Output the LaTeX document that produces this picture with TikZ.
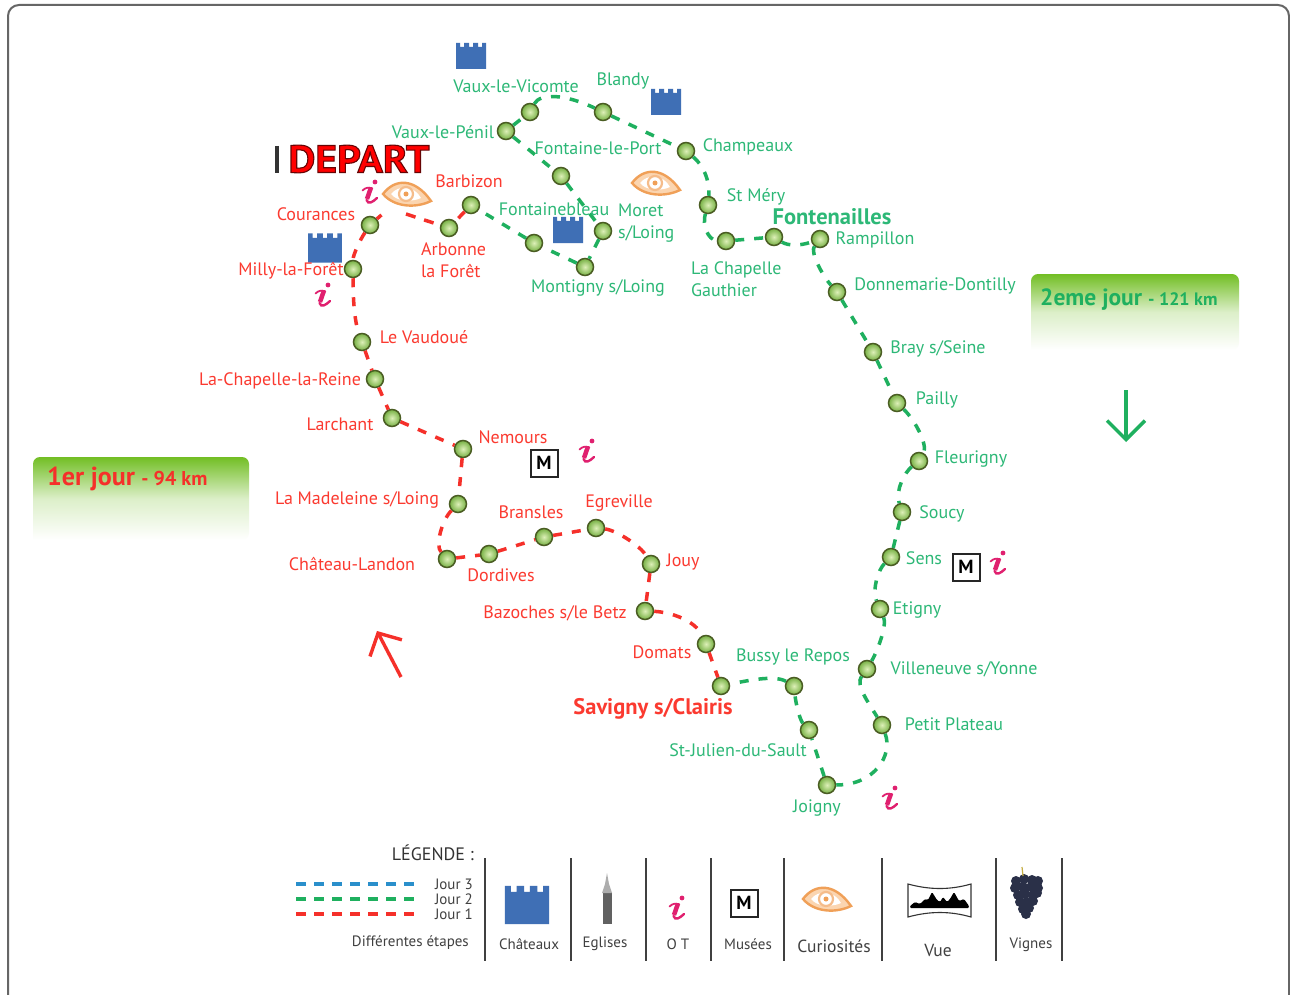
\documentclass[tikz,border=0pt]{standalone}
\usepackage{fontspec}
\setmainfont{PT Sans}
\newfontfamily\depfont[BoldFeatures={FakeStretch=1.08}]{PT Sans}
\usetikzlibrary{arrows.meta}
\definecolor{routeG}{HTML}{1FB05F}
\definecolor{routeR}{HTML}{F5302A}
\definecolor{routeB}{HTML}{2A8FCB}
\definecolor{textG}{HTML}{2DB877}
\definecolor{textR}{HTML}{FB3A30}
\definecolor{castleB}{HTML}{3F6FB5}
\definecolor{pinkI}{HTML}{E0206F}
\definecolor{eyeO}{HTML}{F0A058}
\definecolor{eyeP}{HTML}{FBD5B0}
\definecolor{greenbar}{HTML}{72BE24}
\definecolor{grape}{HTML}{2A3048}
\definecolor{stopE}{HTML}{4A5D23}
\definecolor{stopI}{HTML}{DDF0B8}
\definecolor{stopO}{HTML}{76B043}
\tikzset{
  etape/.style={circle,draw=stopE,line width=1.5pt,minimum size=17pt,inner sep=0pt,
    inner color=stopI,outer color=stopO},
  gl/.style={text=textG,font=\fontsize{18}{22}\selectfont,inner sep=0pt,align=left},
  rl/.style={text=textR,font=\fontsize{18}{22}\selectfont,inner sep=0pt,align=left},
  dl/.style={text=black!75,font=\fontsize{15}{16}\selectfont,inner sep=0pt},
  groute/.style={draw=routeG,line width=3.5pt,dash pattern=on 9pt off 10pt},
  rroute/.style={draw=routeR,line width=3.5pt,dash pattern=on 9pt off 10pt},
  sep/.style={draw=black!75,line width=1.8pt},
  mbox/.style={draw=black!85,line width=2pt,fill=white,minimum size=27pt,inner sep=0pt,font=\bfseries\fontsize{19}{19}\selectfont},
  bar/.style={rounded corners=7pt,top color=greenbar,bottom color=white,middle color=greenbar!25!white},
  castle/.pic={
    \fill[castleB] (-15,-13) -- (-15,13) -- (15,13) -- (15,-13) -- (11,-13) -- (11,-9) -- (7,-9) -- (7,-13)
      -- (2,-13) -- (2,-9) -- (-2,-9) -- (-2,-13) -- (-7,-13) -- (-7,-9) -- (-11,-9) -- (-11,-13) -- cycle;
  },
  eye/.pic={
    \fill[eyeP,draw=eyeO,line width=2.4pt] (-24,0) .. controls (-12,-16) and (8,-16) .. (24,7) .. controls (10,14) and (-12,14) .. (-24,0) -- cycle;
    \fill[white] (-16,0) .. controls (-9,-9) and (7,-9) .. (14,4) .. controls (6,8) and (-10,8) .. (-16,0) -- cycle;
    \draw[eyeO!70!white,line width=2.2pt] (-1,0) circle (7);
    \fill[eyeO] (-1,0) circle (2.5);
  },
  infoi/.pic={
    \fill[pinkI] (5,-10) circle (2.4);
    \draw[pinkI,line width=1.8pt,line cap=round] (-7.5,-1.5) .. controls (-4,-5) and (-1,-4.5) .. (2,-4);
    \draw[pinkI,line width=4.5pt] (1,-4.5) -- (-3,7);
    \draw[pinkI,line width=2.4pt,line cap=round] (-3.5,8) .. controls (-2,13) and (3,10) .. (7,6);
  },
}
\begin{document}
\begin{tikzpicture}[x=1pt,y=-1pt]
\useasboundingbox (0,0) rectangle (1290,995);
\fill[white] (0,0) rectangle (1290,995);
\draw[black!60,line width=2pt,rounded corners=11pt] (8,1010) -- (8,5) -- (1289,5) -- (1289,1010);

% stops
\foreach \n/\x/\y in {vlp/506/131,vlv/530/112,bla/603/112,cha/686/151,stm/708/205,lac/726/241,fon/774/237,ram/820/239,
 don/837/292,bra/873/352,pai/897/403,fle/919/461,sou/902/512,sen/891/557,eti/880/609,vil/867/669,pet/882/725,joi/827/785,
 stj/809/730,bus/794/686,sav/721/686,flp/561/176,mor/603/231,mon/585/267,fbl/534/243,bar/471/205,arb/449/228,cou/370/225,
 mil/353/269,vau/362/342,clr/375/379,lar/392/418,nem/463/449,mad/458/504,chl/447/559,dor/489/554,brn/544/537,egr/596/528,
 jou/651/564,baz/645/611,dom/706/644}
 {\node[etape] (\n) at (\x,\y) {};}

% green route
\draw[groute] (vlp) -- (vlv);
\draw[groute] (vlv) .. controls (540,93) and (565,94) .. (bla);
\draw[groute] (bla) -- (cha);
\draw[groute] (cha) .. controls (703,165) and (710,180) .. (stm);
\draw[groute] (stm) .. controls (702,225) and (708,240) .. (lac);
\draw[groute] (lac) -- (fon);
\draw[groute] (fon) .. controls (788,246) and (800,246) .. (ram);
\draw[groute] (ram) .. controls (810,252) and (822,275) .. (don);
\draw[groute] (don) -- (bra);
\draw[groute] (bra) -- (pai);
\draw[groute] (pai) .. controls (915,420) and (928,445) .. (fle);
\draw[groute] (fle) .. controls (905,472) and (895,490) .. (sou);
\draw[groute] (sou) -- (sen);
\draw[groute] (sen) .. controls (878,570) and (872,590) .. (eti);
\draw[groute] (eti) .. controls (887,625) and (878,650) .. (vil);
\draw[groute] (vil) .. controls (855,685) and (870,705) .. (pet);
\draw[groute] (pet) .. controls (893,755) and (875,785) .. (joi);
\draw[groute] (joi) -- (stj);
\draw[groute] (stj) .. controls (800,720) and (796,705) .. (bus);
\draw[groute] (bus) .. controls (775,675) and (750,680) .. (sav);
\draw[groute] (vlp) -- (flp);
\draw[groute] (flp) -- (mor);
\draw[groute] (mor) -- (mon);
\draw[groute] (mon) -- (fbl);
\draw[groute] (fbl) -- (bar);
% red route
\coordinate (eyestub) at (395,203);
\coordinate (eyelow) at (406,214);
\draw[rroute] (bar) -- (arb);
\draw[rroute,dash pattern=on 6pt off 40pt] (cou) -- (eyestub);
\draw[rroute,dash pattern=on 10pt off 9pt] (eyelow) -- (arb);
\draw[rroute] (cou) .. controls (360,240) and (353,255) .. (mil);
\draw[rroute] (mil) .. controls (353,295) and (354,320) .. (vau);
\draw[rroute] (vau) -- (clr);
\draw[rroute] (clr) -- (lar);
\draw[rroute] (lar) -- (nem);
\draw[rroute] (nem) -- (mad);
\draw[rroute] (mad) .. controls (442,520) and (435,545) .. (chl);
\draw[rroute] (chl) -- (dor);
\draw[rroute] (dor) -- (brn);
\draw[rroute] (brn) -- (egr);
\draw[rroute] (egr) .. controls (615,530) and (640,545) .. (jou);
\draw[rroute] (jou) -- (baz);
\draw[rroute] (baz) .. controls (670,612) and (695,620) .. (dom);
\draw[rroute] (dom) -- (sav);

% icons
\pic at (471,56) {castle};
\pic at (666,102) {castle};
\pic[scale=1.12] at (325,248) {castle};
\pic at (568,230) {castle};
\pic[scale=1.47] at (527,905) {castle};
\pic at (407,194) {eye};
\pic at (656,183) {eye};
\pic at (827,899) {eye};
\pic at (370,192) {infoi};
\pic at (323,295) {infoi};
\pic at (587,451) {infoi};
\pic at (998,563) {infoi};
\pic at (890,798) {infoi};
\pic at (677,908) {infoi};
\node[mbox] (m1) at (544,463) {M};
\node[mbox] (m2) at (966,567) {M};
\node[mbox] (m3) at (744,903) {M};

% green labels
\node[gl] (l1) at (516,86) {Vaux-le-Vicomte};
\node[gl] (l2) at (623,81) {Blandy};
\node[gl] (l3) at (443,132) {Vaux-le-Pénil};
\node[gl] (l4) at (598,148) {Fontaine-le-Port};
\node[gl] (l5) at (748,147) {Champeaux};
\node[gl] (l6) at (756,197) {St Méry};
\node[gl,font=\bfseries\fontsize{22.5}{24}\selectfont] (l7) at (832,217) {Fontenailles};
\node[gl] (l8) at (875,240) {Rampillon};
\node[gl,anchor=west] (l9) at (691,279) {La Chapelle\\Gauthier};
\node[gl] (l10) at (935,286) {Donnemarie-Dontilly};
\node[gl] (l11) at (938,349) {Bray s/Seine};
\node[gl] (l12) at (937,400) {Pailly};
\node[gl] (l13) at (971,459) {Fleurigny};
\node[gl] (l14) at (942,514) {Soucy};
\node[gl] (l15) at (924,558) {Sens};
\node[gl] (l16) at (917,610) {Etigny};
\node[gl] (l17) at (964,669) {Villeneuve s/Yonne};
\node[gl] (l18) at (954,724) {Petit Plateau};
\node[gl] (l19) at (817,808) {Joigny};
\node[gl] (l20) at (738,750) {St-Julien-du-Sault};
\node[gl] (l21) at (793,657) {Bussy le Repos};
\node[gl] (l22) at (554,209) {Fontainebleau};
\node[gl,anchor=west] (l23) at (618,223) {Moret\\s/Loing};
\node[gl] (l24) at (598,288) {Montigny s/Loing};
% red labels
\node[rl] (r1) at (469,181) {Barbizon};
\node[rl] (r2) at (316,214) {Courances};
\node[rl,anchor=west] (r3) at (421,260) {Arbonne\\la Forêt};
\node[rl] (r4) at (291,271) {Milly-la-Forêt};
\node[rl] (r5) at (424,337) {Le Vaudoué};
\node[rl] (r6) at (280,381) {La-Chapelle-la-Reine};
\node[rl] (r7) at (340,424) {Larchant};
\node[rl] (r8) at (513,437) {Nemours};
\node[rl] (r9) at (357,500) {La Madeleine s/Loing};
\node[rl] (r10) at (352,564) {Château-Landon};
\node[rl] (r11) at (501,575) {Dordives};
\node[rl] (r12) at (531,512) {Bransles};
\node[rl] (r13) at (619,503) {Egreville};
\node[rl] (r14) at (683,562) {Jouy};
\node[rl] (r15) at (555,613) {Bazoches s/le Betz};
\node[rl] (r16) at (662,652) {Domats};
\node[rl,font=\bfseries\fontsize{22.5}{24}\selectfont] (r17) at (653,709) {Savigny s/Clairis};

% depart
\draw[black!80,line width=3.5pt] (277,146) -- (277,173);
\node[text=red,inner sep=0pt,font=\depfont\bfseries\fontsize{38.5}{40}\selectfont] (dep) at (359,159)
  {\special{pdf:code q 2 Tr 1.1 w 0.4 0.02 0.02 RG}DEPART\special{pdf:code Q}};

% day boxes
\path[bar] (33,540) -- (33,457) -- (249,457) -- (249,540) [sharp corners] -- cycle;
\path[bar] (1031,350) -- (1031,274) -- (1239,274) -- (1239,350) [sharp corners] -- cycle;
\node[text=routeR,inner sep=0pt,anchor=base west] (d1) at (47,485) {\bfseries\fontsize{26}{28}\selectfont 1er jour {\fontsize{20}{22}\selectfont - 94 km}};
\node[text=routeG,inner sep=0pt,anchor=base west] (d2) at (1040,305) {\bfseries\fontsize{23.5}{28}\selectfont 2eme jour {\fontsize{18}{22}\selectfont - 121 km}};

% arrows
\coordinate (ra) at (401,677);
\coordinate (rb) at (377,631);
\coordinate (ga) at (1126,390);
\coordinate (gb) at (1126,442);
\draw[routeR,line width=3.4pt,-{Straight Barb[length=17pt,width=36pt]}] (ra) -- (rb);
\draw[routeG,line width=3.4pt,-{Straight Barb[length=19pt,width=38pt]}] (ga) -- (gb);

% legend
\node[text=black!80,inner sep=0pt,anchor=east,font=\fontsize{18}{20}\selectfont] (leg) at (474,853) {LÉGENDE :};
\foreach \n/\y/\c in {3/884/routeB,2/899/routeG,1/914/routeR}{
  \coordinate (ls\n) at (296,\y);
  \coordinate (le\n) at (418,\y);
  \draw[\c,line width=3.4pt,dash pattern=on 10pt off 8pt] (ls\n) -- (le\n);
  \node[dl,anchor=east] (j\n) at (473,\y) {Jour \n};
}
\node[dl,anchor=east] (det) at (469,943) {Différentes étapes};
\foreach \x in {485,571,646,711,784,882,996,1062}{
  \coordinate (sa\x) at (\x,858);
  \coordinate (sb\x) at (\x,961);
  \draw[sep] (sa\x) -- (sb\x);
}
\node[dl] (c1) at (529,944) {Châteaux};
\node[dl] (c2) at (605,944) {Eglises};
\node[dl] (c3) at (678,944) {O T};
\node[dl] (c4) at (748,944) {Musées};
\node[dl,font=\fontsize{17.5}{20}\selectfont] (c5) at (834,946) {Curiosités};
\node[dl,font=\fontsize{17.5}{20}\selectfont] (c6) at (938,950) {Vue};
\node[dl] (c7) at (1031,945) {Vignes};

% church
\fill[black!62] (602.5,893) rectangle (611.5,924);
\fill[black!32] (607,873) -- (609,884) -- (612,893) -- (602,893) -- (605,884) -- cycle;
% view
\draw[black!80,line width=1.1pt] (908,884) .. controls (930,890) and (950,890) .. (971,884) -- (971,917) .. controls (950,911) and (930,911) .. (908,917) -- cycle;
\fill[black,rounded corners=1.2pt] (910,906) -- (915,902) -- (920,904) -- (925,899) -- (928,900) -- (932,892) -- (937,900) -- (940,902) -- (943,897) -- (947,902) -- (950,899) -- (954,892) -- (959,901) -- (964,899) -- (969,906) -- (969,908) -- (910,908) -- cycle;
% grapes
\foreach \x/\y in {1016/881,1024/879,1032/880,1038/881,1015/888,1023/887,1031/887,1038/888,1018/895,1025/894,1033/895,1037/893,1020/902,1027/902,1033/901,1023/909,1029/908,1026/914}
 {\fill[grape] (\x,\y) circle (5);}
\draw[black!25!yellow!60!brown,line width=1.2pt] (1023,876) -- (1022,867);
\end{tikzpicture}
\end{document}
